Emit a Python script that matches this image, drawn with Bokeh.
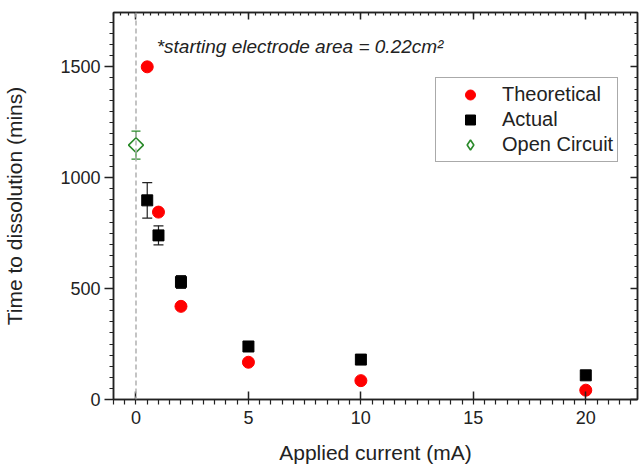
import numpy as np
from bokeh.plotting import figure
from bokeh.models import (Range1d, LinearAxis, FixedTicker, Whisker, ColumnDataSource,
                          Span, Label, Legend, LegendItem, TeeHead, CustomJSTickFormatter)
from bokeh.embed import file_html
from bokeh.resources import INLINE

# ---- data ----
current_theo = [0.5, 1, 2, 5, 10, 20]
time_theo = [1500, 845, 420, 168, 85, 42]

current_act = [0.5, 1, 2, 5, 10, 20]
time_act = [898, 740, 530, 239, 180, 109]
err_act = [80, 43, 29, 14, 8, 6]

current_oc = [0]
time_oc = [1147]
err_oc = [63]

x_major_ticks = [0, 5, 10, 15, 20]
y_major_ticks = [0, 500, 1000, 1500]

FONT = "Liberation Sans"
AX = "#222222"

p = figure(width=640, height=468, x_range=Range1d(-1, 22.3), y_range=Range1d(0, 1745),
           output_backend="svg", toolbar_location=None,
           min_border_left=113, min_border_right=3, min_border_top=12, min_border_bottom=69)
p.grid.visible = False
p.outline_line_color = AX
p.outline_line_width = 1.5

x_minor = np.arange(-1, 22.3, 0.5).tolist()
x_minor_top = np.arange(-1, 22.3, 1.0 / 3).tolist()
y_minor = np.arange(0, 1746, 50).tolist()

# bottom axis
xa = p.xaxis[0]
xa.ticker = FixedTicker(ticks=x_major_ticks, minor_ticks=x_minor)
xa.major_tick_in = 8
xa.major_tick_out = 0
xa.minor_tick_in = 0
xa.minor_tick_out = 5
xa.major_label_standoff = 6
xa.axis_label = "Applied current (mA)"
xa.axis_label_standoff = 14

ya = p.yaxis[0]
ya.ticker = FixedTicker(ticks=y_major_ticks, minor_ticks=y_minor)
ya.major_tick_in = 0
ya.major_tick_out = 9
ya.minor_tick_in = 0
ya.minor_tick_out = 4
ya.major_label_standoff = 4
ya.axis_label = "Time to dissolution (mins)"
ya.axis_label_standoff = 31

for a in (xa, ya):
    a.axis_line_color = AX
    a.axis_line_width = 1.5
    a.major_tick_line_color = AX
    a.major_tick_line_width = 1.5
    a.minor_tick_line_color = AX
    a.minor_tick_line_width = 1.2
    a.major_label_text_font = FONT
    a.major_label_text_font_size = "18px"
    a.major_label_text_color = AX
    a.axis_label_text_font = FONT
    a.axis_label_text_font_size = "21px"
    a.axis_label_text_font_style = "normal"
    a.axis_label_text_color = AX

blank = CustomJSTickFormatter(code="return '';")
top = LinearAxis(ticker=FixedTicker(ticks=x_major_ticks, minor_ticks=x_minor_top),
                 formatter=blank,
                 major_tick_in=7, major_tick_out=0, minor_tick_in=3, minor_tick_out=0,
                 major_label_standoff=0)
right = LinearAxis(ticker=FixedTicker(ticks=y_major_ticks, minor_ticks=y_minor),
                   formatter=blank,
                   major_tick_in=7, major_tick_out=0, minor_tick_in=3, minor_tick_out=0,
                   major_label_standoff=0)
for a in (top, right):
    a.axis_line_color = AX
    a.axis_line_width = 1.5
    a.major_tick_line_color = AX
    a.major_tick_line_width = 1.5
    a.minor_tick_line_color = AX
    a.minor_tick_line_width = 1.2
p.add_layout(top, "above")
p.add_layout(right, "right")

# dashed zero line
p.add_layout(Span(location=0, dimension="height", line_color="#b0b0b0",
                  line_dash="5 3", line_width=1.5))

# error bars
src_act = ColumnDataSource(dict(x=current_act, y=time_act,
                                lo=[t - e for t, e in zip(time_act, err_act)],
                                hi=[t + e for t, e in zip(time_act, err_act)]))
src_oc = ColumnDataSource(dict(x=current_oc, y=time_oc,
                               lo=[t - e for t, e in zip(time_oc, err_oc)],
                               hi=[t + e for t, e in zip(time_oc, err_oc)]))
p.add_layout(Whisker(source=src_act, base="x", lower="lo", upper="hi", dimension="height",
                     line_color="#222222", line_width=1.2,
                     upper_head=TeeHead(size=10, line_color="#222222", line_width=1.2),
                     lower_head=TeeHead(size=10, line_color="#222222", line_width=1.2)))
GREEN = "#2a8a2a"
p.add_layout(Whisker(source=src_oc, base="x", lower="lo", upper="hi", dimension="height",
                     line_color=GREEN, line_width=1.2,
                     upper_head=TeeHead(size=9, line_color=GREEN, line_width=1.2),
                     lower_head=TeeHead(size=9, line_color=GREEN, line_width=1.2)))

r_theo = p.scatter(current_theo, time_theo, marker="circle", size=12,
                   fill_color="#ff0000", line_color="#ff0000")
r_act = p.scatter("x", "y", source=src_act, marker="square", size=11,
                  fill_color="black", line_color="black")
r_oc = p.scatter("x", "y", source=src_oc, marker="square", size=10.5, angle=np.pi / 4,
                 fill_color="white", line_color=GREEN, line_width=1.6)
# same data drawn as a diamond only for the legend swatch
r_oc_leg = p.scatter("x", "y", source=src_oc, marker="diamond", size=14,
                     fill_color="white", line_color=GREEN, line_width=1.6, visible=False)

legend = Legend(items=[LegendItem(label="Theoretical", renderers=[r_theo]),
                       LegendItem(label="Actual", renderers=[r_act]),
                       LegendItem(label="Open Circuit", renderers=[r_oc_leg])],
                location=(322, 237), label_text_font=FONT, label_text_font_size="20px",
                label_text_color=AX, glyph_width=60, glyph_height=25, label_height=20,
                label_standoff=2, spacing=0, padding=4, margin=0,
                inactive_fill_alpha=0,
                border_line_color="#555555", border_line_width=1.5,
                background_fill_color="white", background_fill_alpha=1)
p.add_layout(legend)

p.add_layout(Label(x=0.92, y=1593, text="*starting electrode area = 0.22cm²",
                   text_font=FONT, text_font_style="italic", text_font_size="19px",
                   text_color=AX, text_baseline="alphabetic"))

open("out.html", "w").write(file_html(p, INLINE))
